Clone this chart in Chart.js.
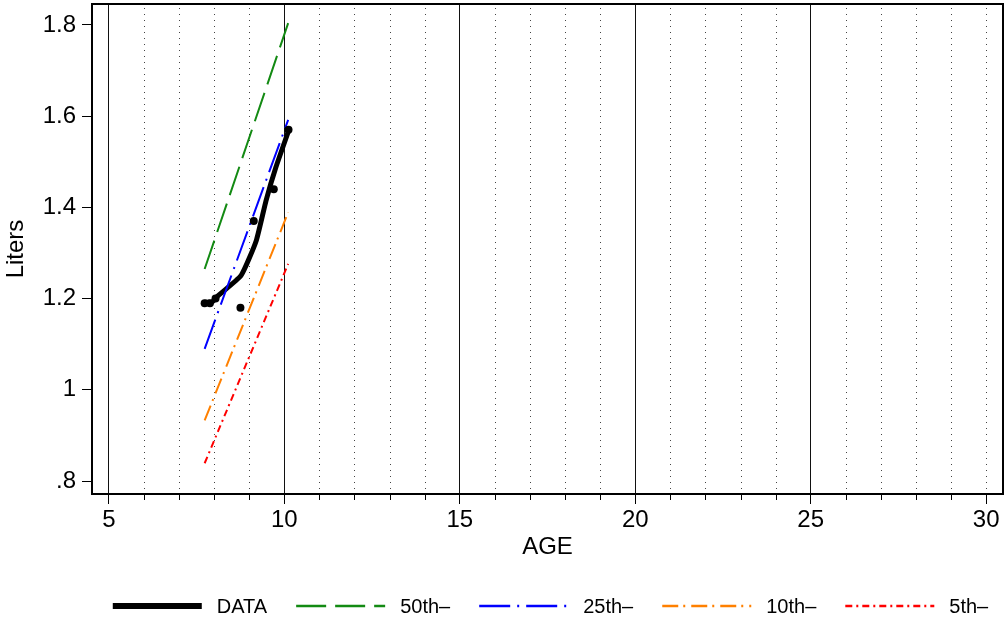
<!DOCTYPE html>
<html lang="en">
<head>
    <meta charset="UTF-8">
    <title>Liters by age</title>
    <script src="https://cdn.jsdelivr.net/npm/chart.js"></script>
    <style>
        body {
            margin: 0;
            background: #fff;
        }

        .chart-box {
            width: 1007px;
            height: 618px;
        }
    </style>
</head>
<body>

    <div class="chart-box">
        <canvas id="ageChart"></canvas>
    </div>

    <script>
        // Observed measurements (dots)
        const obsAge = [7.73, 7.88, 8.04, 8.75, 9.13, 9.70, 10.12];
        const obsLiters = [1.19, 1.19, 1.20, 1.18, 1.37, 1.44, 1.57];

        // Smoothed DATA line
        const dataAge = [7.73, 7.95, 8.06, 8.77, 9.20, 9.48, 9.76, 10.14];
        const dataLiters = [1.192, 1.193, 1.203, 1.251, 1.327, 1.415, 1.488, 1.572];

        // Reference percentile lines
        const pctAge = [7.73, 10.11];
        const p50 = [1.265, 1.804];
        const p25 = [1.090, 1.592];
        const p10 = [0.933, 1.389];
        const p5 = [0.839, 1.276];

        const xMajor = [5, 10, 15, 20, 25, 30];
        const yTicks = [0.8, 1.0, 1.2, 1.4, 1.6, 1.8];

        const FONT = "'Liberation Sans', Arial, sans-serif";

        function toPoints(xs, ys) {
            return xs.map((x, i) => ({ x: x, y: ys[i] }));
        }

        function pctSet(label, values, color, dash, order) {
            return {
                label: label,
                data: toPoints(pctAge, values),
                showLine: true,
                borderColor: color,
                borderWidth: 2,
                borderDash: dash,
                pointRadius: 0,
                fill: false,
                order: order
            };
        }

        const datasets = [
            {
                label: 'obs',
                data: toPoints(obsAge, obsLiters),
                showLine: false,
                pointRadius: 4,
                pointBackgroundColor: '#000',
                pointBorderWidth: 0,
                order: 0,
                noLegend: true
            },
            {
                label: 'DATA',
                data: toPoints(dataAge, dataLiters),
                showLine: true,
                borderColor: '#000',
                borderWidth: 5,
                borderDash: [],
                tension: 0.15,
                pointRadius: 0,
                fill: false,
                order: 3
            },
            pctSet('50th\u2013', p50, '#138a13', [30, 9], 2),
            pctSet('25th\u2013', p25, '#0000ff', [31, 7, 2, 7], 2),
            pctSet('10th\u2013', p10, '#ff8000', [16, 5, 2, 6], 2),
            pctSet('5th\u2013', p5, '#ff0000', [7, 4, 2, 4], 2)
        ];

        // Dotted minor grid, minor ticks, frame and the legend row
        const extras = {
            id: 'extras',
            beforeDatasetsDraw(chart) {
                const { ctx, chartArea: a, scales } = chart;
                const x = scales.x;
                ctx.save();
                for (let v = 6; v <= 30; v++) {
                    if (v % 5 === 0 && v < 30) continue;
                    const px = Math.round(x.getPixelForValue(v)) + 0.5;
                    ctx.strokeStyle = '#444';
                    ctx.lineWidth = 1;
                    ctx.setLineDash([1, 5]);
                    ctx.beginPath();
                    ctx.moveTo(px, a.top + 4);
                    ctx.lineTo(px, a.bottom);
                    ctx.stroke();
                    if (v % 5 !== 0) {
                        ctx.setLineDash([]);
                        ctx.strokeStyle = '#000';
                        ctx.beginPath();
                        ctx.moveTo(px, a.bottom);
                        ctx.lineTo(px, a.bottom + 6);
                        ctx.stroke();
                    }
                }
                ctx.restore();
            },
            afterDraw(chart) {
                const { ctx, chartArea: a } = chart;
                ctx.save();
                ctx.strokeStyle = '#000';
                ctx.lineWidth = 2;
                ctx.strokeRect(a.left, a.top, a.right - a.left, a.bottom - a.top);

                // legend
                const lineLen = 89, textGap = 15, itemGap = 29;
                ctx.font = '20px ' + FONT;
                const items = chart.data.datasets.filter(d => !d.noLegend);
                let total = 0;
                items.forEach((d, i) => {
                    total += lineLen + textGap + ctx.measureText(d.label).width;
                    if (i > 0) total += itemGap;
                });
                let cx = (a.left + a.right) / 2 - total / 2 + 3;
                const cy = 606;
                ctx.textBaseline = 'middle';
                ctx.fillStyle = '#000';
                items.forEach(d => {
                    ctx.strokeStyle = d.borderColor;
                    ctx.lineWidth = d.label === 'DATA' ? 6 : 2.5;
                    ctx.setLineDash(d.borderDash || []);
                    ctx.beginPath();
                    ctx.moveTo(cx, cy);
                    ctx.lineTo(cx + lineLen, cy);
                    ctx.stroke();
                    ctx.setLineDash([]);
                    cx += lineLen + textGap;
                    ctx.fillText(d.label, cx, cy + 1);
                    cx += ctx.measureText(d.label).width + itemGap;
                });
                ctx.restore();
            }
        };

        new Chart(document.getElementById('ageChart'), {
            type: 'scatter',
            data: { datasets: datasets },
            plugins: [extras],
            options: {
                responsive: true,
                maintainAspectRatio: false,
                animation: false,
                layout: { padding: { top: 3, right: 1, bottom: 28, left: 0 } },
                plugins: {
                    legend: { display: false },
                    tooltip: { enabled: false }
                },
                scales: {
                    x: {
                        type: 'linear',
                        min: 4.52,
                        max: 30.48,
                        afterBuildTicks: s => { s.ticks = xMajor.map(v => ({ value: v })); },
                        afterFit: s => {
                            s.height = 96;
                            s.paddingLeft = 0;
                            s.paddingRight = 0;
                        },
                        ticks: {
                            color: '#000',
                            padding: 2,
                            maxRotation: 0,
                            font: { family: FONT, size: 24 }
                        },
                        grid: {
                            drawOnChartArea: true,
                            color: c => (c.tick && c.tick.value < 30 ? '#111' : 'rgba(0,0,0,0)'),
                            tickColor: '#000',
                            tickLength: 10,
                            lineWidth: 1
                        },
                        border: { color: '#000', width: 2 },
                        title: {
                            display: true,
                            text: 'AGE',
                            color: '#000',
                            font: { family: FONT, size: 24 },
                            padding: { top: 4, bottom: 28 }
                        }
                    },
                    y: {
                        min: 0.7716,
                        max: 1.846,
                        afterBuildTicks: s => { s.ticks = yTicks.map(v => ({ value: v })); },
                        afterFit: s => {
                            s.width = 92;
                            s.paddingTop = 0;
                            s.paddingBottom = 0;
                        },
                        ticks: {
                            color: '#000',
                            padding: 6,
                            font: { family: FONT, size: 24 },
                            callback: v => {
                                if (Math.abs(v - 1) < 1e-6) return '1';
                                const s = v.toFixed(1);
                                return s.startsWith('0') ? s.slice(1) : s;
                            }
                        },
                        grid: {
                            drawOnChartArea: false,
                            tickColor: '#000',
                            tickLength: 10
                        },
                        border: { color: '#000', width: 2 },
                        title: {
                            display: true,
                            text: 'Liters',
                            color: '#000',
                            font: { family: FONT, size: 24 },
                            padding: { top: 2, bottom: 2 }
                        }
                    }
                }
            }
        });
    </script>

</body>
</html>
